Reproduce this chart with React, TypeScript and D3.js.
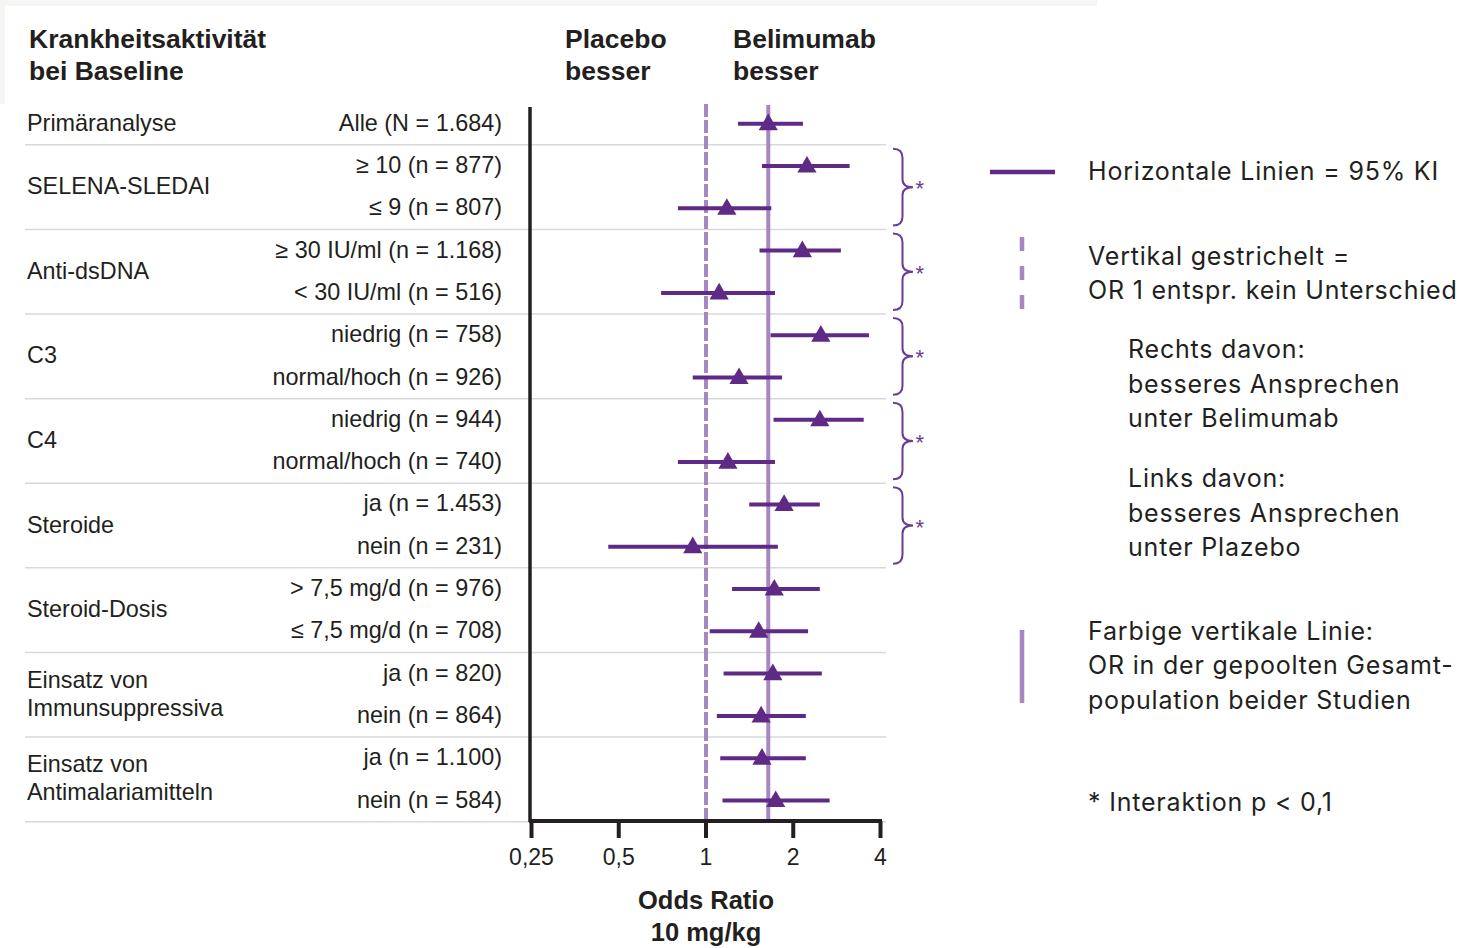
import React from "react";
import * as d3 from "d3";

// ---- Data ----
const groupLabels: string[][] = [
  ["Primäranalyse"],
  ["SELENA-SLEDAI"],
  ["Anti-dsDNA"],
  ["C3"],
  ["C4"],
  ["Steroide"],
  ["Steroid-Dosis"],
  ["Einsatz von", "Immunsuppressiva"],
  ["Einsatz von", "Antimalariamitteln"],
];
const groupRows: number[][] = [[0], [1, 2], [3, 4], [5, 6], [7, 8], [9, 10], [11, 12], [13, 14], [15, 16]];
const interactionGroups = [1, 2, 3, 4, 5];

const subgroupLabels = [
  "Alle (N = 1.684)",
  "≥ 10 (n = 877)",
  "≤ 9 (n = 807)",
  "≥ 30 IU/ml (n = 1.168)",
  "< 30 IU/ml (n = 516)",
  "niedrig (n = 758)",
  "normal/hoch (n = 926)",
  "niedrig (n = 944)",
  "normal/hoch (n = 740)",
  "ja (n = 1.453)",
  "nein (n = 231)",
  "> 7,5 mg/d (n = 976)",
  "≤ 7,5 mg/d (n = 708)",
  "ja (n = 820)",
  "nein (n = 864)",
  "ja (n = 1.100)",
  "nein (n = 584)",
];
const estimates = [1.64, 2.23, 1.18, 2.15, 1.11, 2.49, 1.3, 2.47, 1.19, 1.86, 0.9, 1.72, 1.52, 1.7, 1.55, 1.56, 1.74];
const lower = [1.29, 1.56, 0.8, 1.53, 0.7, 1.67, 0.9, 1.71, 0.8, 1.41, 0.46, 1.23, 1.03, 1.15, 1.09, 1.12, 1.14];
const upper = [2.16, 3.13, 1.68, 2.92, 1.73, 3.65, 1.83, 3.5, 1.73, 2.47, 1.77, 2.47, 2.25, 2.51, 2.21, 2.21, 2.67];
const pooledOR = 1.64;
const tickValues = [0.25, 0.5, 1, 2, 4];
const tickLabels = ["0,25", "0,5", "1", "2", "4"];

const legendLines: { text: string; x: number; y: number }[] = [
  { text: "Horizontale Linien = 95% KI", x: 1088, y: 171 },
  { text: "Vertikal gestrichelt =", x: 1088, y: 256 },
  { text: "OR 1 entspr. kein Unterschied", x: 1088, y: 290 },
  { text: "Rechts davon:", x: 1128, y: 349 },
  { text: "besseres Ansprechen", x: 1128, y: 384 },
  { text: "unter Belimumab", x: 1128, y: 418 },
  { text: "Links davon:", x: 1128, y: 478 },
  { text: "besseres Ansprechen", x: 1128, y: 513 },
  { text: "unter Plazebo", x: 1128, y: 547 },
  { text: "Farbige vertikale Linie:", x: 1088, y: 631 },
  { text: "OR in der gepoolten Gesamt-", x: 1088, y: 665 },
  { text: "population beider Studien", x: 1088, y: 700 },
  { text: "* Interaktion p < 0,1", x: 1088, y: 802 },
];

const DARK = "#5e2a86";
const LIGHT = "#a687c3";
const TEXT = "#231f20";
const SANS = "'Liberation Sans', Arial, Helvetica, sans-serif";
const LEGEND_FONT = "Inter, 'Open Sans', sans-serif";

export default function App() {
  const x = d3.scaleLog().base(2).domain([0.25, 4]).range([531.5, 880.5]);
  const y = d3.scaleLinear().domain([0, 16]).range([123.7, 800.5]);
  const half = (y(1) - y(0)) / 2;
  const axisY = 821;
  const tri = d3.symbol().type(d3.symbolTriangle).size(160)();

  const separators = groupRows.map((rows) => y(rows[rows.length - 1]) + half);

  const bracePath = (y0: number, y1: number) => {
    const xl = 893, xs = 902.5, xt = 913;
    const ym = (y0 + y1) / 2;
    return `M${xl},${y0} Q${xs},${y0} ${xs},${y0 + 9} L${xs},${ym - 8} Q${xs},${ym} ${xt},${ym} Q${xs},${ym} ${xs},${ym + 8} L${xs},${y1 - 9} Q${xs},${y1} ${xl},${y1}`;
  };

  return (
    <svg
      width={1466}
      height={948}
      style={{ position: "absolute", left: 0, top: 0, background: "#fff" }}
      fontFamily={SANS}
    >
      <rect x={0} y={0} width={1097} height={6} fill="#f6f5f3" />
      <rect x={0} y={0} width={5} height={104} fill="#f6f5f3" />

      {/* header */}
      <g fontWeight="bold" fontSize={26.5} fill={TEXT}>
        <text x={29} y={48}>Krankheitsaktivität</text>
        <text x={29} y={80}>bei Baseline</text>
        <text x={565} y={48}>Placebo</text>
        <text x={565} y={80}>besser</text>
        <text x={733} y={48}>Belimumab</text>
        <text x={733} y={80}>besser</text>
      </g>

      {/* separators */}
      {separators.map((sy, i) => (
        <line key={i} x1={25} x2={886} y1={sy} y2={sy} stroke="#d9d9d9" strokeWidth={1.5} />
      ))}

      {/* group labels */}
      <g fontSize={23.4} fill={TEXT}>
        {groupLabels.map((lines, gi) => {
          const rows = groupRows[gi];
          const cy = (y(rows[0]) + y(rows[rows.length - 1])) / 2;
          return lines.map((t, li) => (
            <text key={gi + "-" + li} x={27} y={cy + 7 + (li - (lines.length - 1) / 2) * 28}>
              {t}
            </text>
          ));
        })}
        {subgroupLabels.map((t, i) => (
          <text key={i} x={502} y={y(i) + 7} textAnchor="end">
            {t}
          </text>
        ))}
      </g>

      {/* reference lines */}
      <line x1={x(1)} x2={x(1)} y1={104} y2={axisY} stroke={LIGHT} strokeWidth={4} strokeDasharray="13,3" />
      <line x1={x(pooledOR)} x2={x(pooledOR)} y1={105} y2={axisY} stroke={LIGHT} strokeWidth={4} />

      {/* CI lines and estimates */}
      {estimates.map((e, i) => (
        <g key={i}>
          <line x1={x(lower[i])} x2={x(upper[i])} y1={y(i)} y2={y(i)} stroke={DARK} strokeWidth={4} />
          <path d={tri!} transform={`translate(${x(e)},${y(i) + 1})`} fill={DARK} />
        </g>
      ))}

      {/* axes */}
      <line x1={530} x2={530} y1={107} y2={axisY + 1} stroke={TEXT} strokeWidth={3.5} />
      <line x1={529} x2={882} y1={axisY} y2={axisY} stroke={TEXT} strokeWidth={4} />
      {tickValues.map((v, i) => (
        <g key={i}>
          <line x1={x(v)} x2={x(v)} y1={axisY} y2={axisY + 17} stroke={TEXT} strokeWidth={4} />
          <text x={x(v)} y={axisY + 44} textAnchor="middle" fontSize={23} fill={TEXT}>
            {tickLabels[i]}
          </text>
        </g>
      ))}
      <text x={x(1)} y={909} textAnchor="middle" fontSize={25.5} fontWeight="bold" fill={TEXT}>
        Odds Ratio
      </text>
      <text x={x(1)} y={941} textAnchor="middle" fontSize={25.5} fontWeight="bold" fill={TEXT}>
        10 mg/kg
      </text>

      {/* interaction braces */}
      {interactionGroups.map((gi) => {
        const rows = groupRows[gi];
        const y0 = y(rows[0]) - half + 4;
        const y1 = y(rows[rows.length - 1]) + half - 4;
        return (
          <g key={gi}>
            <path d={bracePath(y0, y1)} fill="none" stroke="#6b3b95" strokeWidth={2} />
            <text x={915.5} y={(y0 + y1) / 2 + 9} fontSize={22} fill="#6b3b95">*</text>
          </g>
        );
      })}

      {/* legend */}
      <line x1={990} x2={1055} y1={172} y2={172} stroke={DARK} strokeWidth={4.5} />
      <line x1={1022} x2={1022} y1={237} y2={310} stroke={LIGHT} strokeWidth={4.5} strokeDasharray="14,15" />
      <line x1={1022} x2={1022} y1={630} y2={703} stroke={LIGHT} strokeWidth={4.5} />
      <g fontFamily={LEGEND_FONT} fontSize={25} fill={TEXT} letterSpacing={0.8}>
        {legendLines.map((l, i) => (
          <text key={i} x={l.x} y={l.y + 9}>
            {l.text}
          </text>
        ))}
      </g>
    </svg>
  );
}
